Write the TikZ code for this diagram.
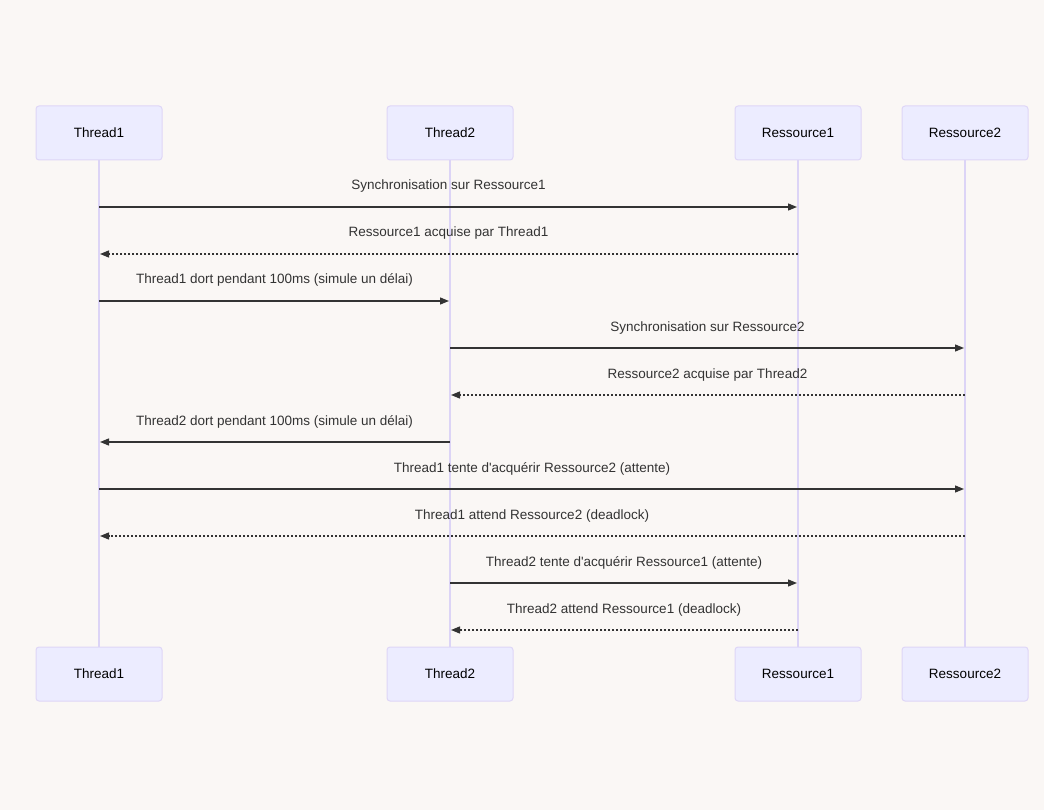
\documentclass[tikz,border=0pt]{standalone}
\usepackage{fontspec}
\setmainfont{Liberation Sans}[Ligatures=TeXOff]
\usetikzlibrary{arrows.meta}
\definecolor{bgColor}{RGB}{250,247,245}
\definecolor{actorFill}{RGB}{236,236,255}
\definecolor{actorLine}{RGB}{222,214,247}
\definecolor{lifeLine}{RGB}{220,212,246}
\definecolor{msgColor}{RGB}{51,51,51}

\begin{document}
\begin{tikzpicture}[x=1pt,y=-1pt,
    actor/.style={fill=actorFill,draw=actorLine,line width=1pt,rounded corners=3pt,minimum width=126pt,minimum height=54pt,inner sep=0pt,font=\fontsize{13.5}{15}\selectfont,text=black},
    life/.style={lifeLine,line width=1.5pt},
    msg/.style={-{Triangle[length=9pt,width=7pt]},msgColor,line width=1.3pt,shorten >=1pt},
    reply/.style={msg,dash pattern=on 2pt off 2pt},
    lbl/.style={font=\fontsize{13.5}{15}\selectfont,text=msgColor,inner sep=0pt,text height=10pt,text depth=3pt,midway,yshift=20.5pt}]
            % Background
            \fill[bgColor] (0,0) rectangle (1044,810);
            \useasboundingbox (0,0) rectangle (1044,810);

            % Actors
            \node[actor] (t1top) at (99,133) {Thread1};
            \node[actor] (t2top) at (450,133) {Thread2};
            \node[actor] (r1top) at (798,133) {Ressource1};
            \node[actor] (r2top) at (965,133) {Ressource2};

            \node[actor] (t1bot) at (99,674) {Thread1};
            \node[actor] (t2bot) at (450,674) {Thread2};
            \node[actor] (r1bot) at (798,674) {Ressource1};
            \node[actor] (r2bot) at (965,674) {Ressource2};

            % Lifelines
            \draw[life] (t1top) -- (t1bot);
            \draw[life] (t2top) -- (t2bot);
            \draw[life] (r1top) -- (r1bot);
            \draw[life] (r2top) -- (r2bot);

            % Messages
            \draw[msg] (t1top |- 0,207) -- node[lbl] {Synchronisation sur Ressource1} (r1top |- 0,207);
            \draw[reply] (r1top |- 0,254) -- node[lbl] {Ressource1 acquise par Thread1} (t1top |- 0,254);
            \draw[msg] (t1top |- 0,301) -- node[lbl] {Thread1 dort pendant 100ms (simule un délai)} (t2top |- 0,301);
            \draw[msg] (t2top |- 0,348) -- node[lbl] {Synchronisation sur Ressource2} (r2top |- 0,348);
            \draw[reply] (r2top |- 0,395) -- node[lbl] {Ressource2 acquise par Thread2} (t2top |- 0,395);
            \draw[msg] (t2top |- 0,442) -- node[lbl] {Thread2 dort pendant 100ms (simule un délai)} (t1top |- 0,442);
            \draw[msg] (t1top |- 0,489) -- node[lbl] {Thread1 tente d'acquérir Ressource2 (attente)} (r2top |- 0,489);
            \draw[reply] (r2top |- 0,536) -- node[lbl] {Thread1 attend Ressource2 (deadlock)} (t1top |- 0,536);
            \draw[msg] (t2top |- 0,583) -- node[lbl] {Thread2 tente d'acquérir Ressource1 (attente)} (r1top |- 0,583);
            \draw[reply] (r1top |- 0,630) -- node[lbl] {Thread2 attend Ressource1 (deadlock)} (t2top |- 0,630);
        \end{tikzpicture}
\end{document}
